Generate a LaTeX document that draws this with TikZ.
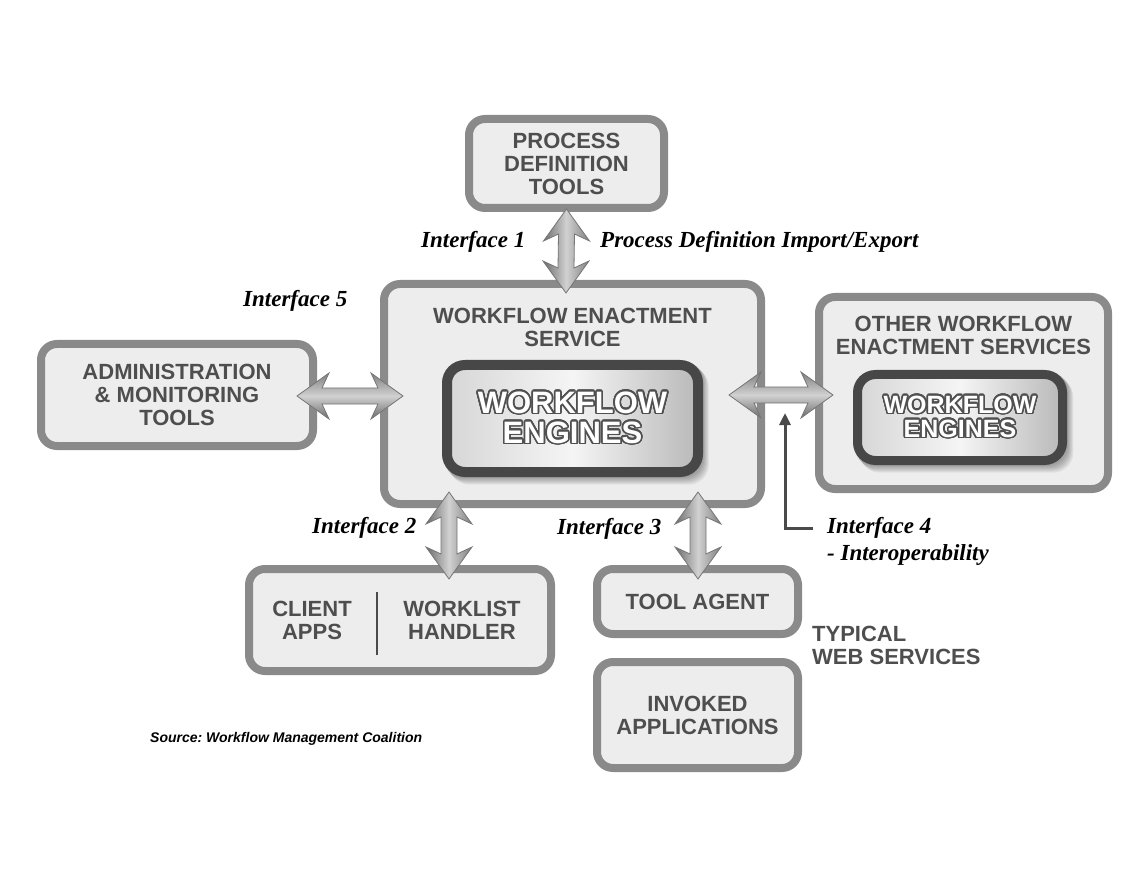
\documentclass[tikz,border=0pt]{standalone}
\usepackage{fontspec}
\setmainfont{Liberation Serif}
\setsansfont{Liberation Sans}
\usepackage[copies]{contour}
\usetikzlibrary{calc,arrows.meta}
\frenchspacing

\definecolor{boxfill}{HTML}{EDEDED}
\definecolor{boxline}{HTML}{8A8A8A}
\definecolor{boxtext}{HTML}{4E4E4E}
\definecolor{engline}{HTML}{474747}
\definecolor{arrline}{HTML}{767676}
\definecolor{darkline}{HTML}{4A4A4A}
\definecolor{ctrcol}{HTML}{505050}

\pgfdeclarelayer{background}
\pgfsetlayers{background,main}

\contourlength{1.6pt}
\contournumber{24}

\tikzset{
  box/.style={draw=boxline, line width=8pt, fill=boxfill, rounded corners=16pt,
    inner sep=0pt, text=boxtext, align=center,
    font=\sffamily\bfseries\fontsize{22}{23}\selectfont},
  boxtxt/.style={inner sep=0pt, text=boxtext, align=center,
    font=\sffamily\bfseries\fontsize{22}{23}\selectfont},
  engine/.style={draw=engline, line width=10pt, rounded corners=18pt,
    inner sep=0pt, left color=gray!32, right color=gray!55, middle color=gray!8,
    text=white, align=center},
  lbl/.style={inner sep=0pt, anchor=base west, text=black,
    font=\rmfamily\bfseries\itshape\fontsize{23}{25}\selectfont},
  fatv/.style={draw=arrline, line width=0.8pt, left color=black!58, right color=black!50, middle color=black!18},
  fath/.style={draw=arrline, line width=0.8pt, top color=black!50, bottom color=black!58, middle color=black!18},
  thinarrow/.style={draw=darkline, line width=3pt, -{Triangle[length=12pt,width=11pt]}},
}

% double-headed fat arrows between two named points
\newcommand\fatvarrow[2]{%
  \path[fatv] (#1) -- ($(#1)+(23,32)$) -- ($(#1)+(8,25)$) -- ($(#2)+(8,-25)$)
    -- ($(#2)+(23,-32)$) -- (#2) -- ($(#2)+(-23,-32)$) -- ($(#2)+(-8,-25)$)
    -- ($(#1)+(-8,25)$) -- ($(#1)+(-23,32)$) -- cycle;}
\newcommand\fatharrow[2]{%
  \path[fath] (#1) -- ($(#1)+(32,-23)$) -- ($(#1)+(25,-8)$) -- ($(#2)+(-25,-8)$)
    -- ($(#2)+(-32,-23)$) -- (#2) -- ($(#2)+(-32,23)$) -- ($(#2)+(-25,8)$)
    -- ($(#1)+(25,8)$) -- ($(#1)+(32,23)$) -- cycle;}
% soft shadow below and right of an engine box
\newcommand\engshadow[3]{%
  \foreach \k in {1,...,7}{
    \fill[black, opacity=0.05, rounded corners=20pt]
      ($(#1)+(-#2/2+\k,-#3/2+\k)$) rectangle ($(#1)+(#2/2+\k*0.9,#3/2+\k*1.1)$);}}

\begin{document}
\begin{tikzpicture}[x=1pt, y=-1pt]
\fill[white] (0,0) rectangle (1133,877);
\useasboundingbox (0,0) rectangle (1133,877);

% boxes
\node[box, minimum width=195, minimum height=89] (pdt) at (566.5,163.5)
  {PROCESS\\DEFINITION\\TOOLS};
\node[box, minimum width=377, minimum height=220] (wes) at (572.5,394) {};
\node[boxtxt] (westxt) at (572.5,327) {WORKFLOW ENACTMENT\\SERVICE};
\coordinate (engc) at (572.5,418.5);
\engshadow{engc}{260}{117}
\node[engine, minimum width=251, minimum height=107,
  font=\sffamily\bfseries\fontsize{31}{30}\selectfont] (eng) at (engc)
  {\contour{ctrcol}{WORKFLOW}\\\contour{ctrcol}{ENGINES}};

\node[box, minimum width=289, minimum height=192] (other) at (963.5,393) {};
\node[boxtxt] (othertxt) at (963.5,335) {OTHER WORKFLOW\\ENACTMENT SERVICES};
\coordinate (oengc) at (960,417.5);
\engshadow{oengc}{214}{95}
\node[engine, line width=9pt, minimum width=205, minimum height=86,
  font=\sffamily\bfseries\fontsize{25}{24}\selectfont] (oeng) at (oengc)
  {\contour{ctrcol}{WORKFLOW}\\\contour{ctrcol}{ENGINES}};

\node[box, minimum width=272, minimum height=102] (adm) at (177,395)
  {ADMINISTRATION\\\& MONITORING\\TOOLS};
\node[box, minimum width=302, minimum height=102] (cli) at (400,620) {};
\node[boxtxt] (clitxt) at (312,620.5) {CLIENT\\APPS};
\node[boxtxt] (wltxt) at (462,620.5) {WORKLIST\\HANDLER};
\draw[darkline, line width=2.2pt] ($(cli.center)+(-23,-28)$) -- ($(cli.center)+(-23,35)$);

\node[box, minimum width=201, minimum height=65] (tool) at (697.5,601.5) {TOOL AGENT};
\node[box, minimum width=201, minimum height=106] (inv) at (697.5,715)
  {INVOKED\\APPLICATIONS};
\begin{pgfonlayer}{background}
  \draw[darkline, line width=4pt] (tool.south) -- (inv.north);
\end{pgfonlayer}
\node[boxtxt, anchor=north west, align=left] (web) at (812,626) {TYPICAL\\WEB SERVICES};

% interface arrows
\coordinate (i1a) at ($(pdt.south)+(0,-3)$);
\coordinate (i1b) at ($(wes.north)+(-6.5,13)$);
\fatvarrow{i1a}{i1b}
\coordinate (i2a) at ($(wes.south)+(-123.5,-16)$);
\coordinate (i2b) at ($(cli.north)+(49,14)$);
\fatvarrow{i2a}{i2b}
\coordinate (i3a) at ($(wes.south)+(125.5,-16)$);
\coordinate (i3b) at ($(tool.north)+(0.5,14)$);
\fatvarrow{i3a}{i3b}
\coordinate (i5a) at ($(adm.east)+(-20,1)$);
\coordinate (i5b) at ($(wes.west)+(23,2)$);
\fatharrow{i5a}{i5b}
\coordinate (i4a) at ($(wes.east)+(-36,1)$);
\coordinate (i4b) at ($(other.west)+(18,2)$);
\fatharrow{i4a}{i4b}

% interface labels
\node[lbl] (l1) at (421,248) {Interface 1};
\node[lbl] (l1b) at (600,248) {Process Definition Import/Export};
\node[lbl] (l5) at (243,307) {Interface 5};
\node[lbl] (l2) at (312,533) {Interface 2};
\node[lbl] (l3) at (557,534) {Interface 3};
\node[lbl] (l4) at (827,533) {Interface 4};
\node[lbl] (l4b) at (827,560) {- Interoperability};
\coordinate (i4tip) at (785,413);
\coordinate (i4end) at (813,528);
\draw[thinarrow] (i4end) -| (i4tip);

\node[inner sep=0pt, anchor=base west, text=black,
  font=\sffamily\bfseries\itshape\fontsize{14}{16}\selectfont] (src) at (150,742)
  {Source: Workflow Management Coalition};
\end{tikzpicture}
\end{document}
